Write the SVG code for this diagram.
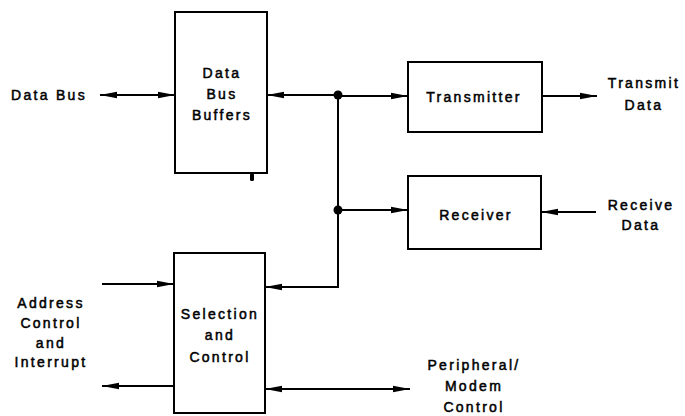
<svg xmlns="http://www.w3.org/2000/svg" width="685" height="416" viewBox="0 0 685 416">
<style>
.box{fill:#fff;stroke:#000;stroke-width:2}
.ln{fill:none;stroke:#000;stroke-width:2}
text{font-family:"Liberation Sans",Arial,sans-serif;font-size:14px;letter-spacing:2.3px;fill:#000;stroke:#000;stroke-width:0.5px;text-anchor:middle}
</style>
<defs>
<marker id="ah" viewBox="0 0 17 8" refX="17" refY="4" markerWidth="17" markerHeight="8" markerUnits="userSpaceOnUse" orient="auto-start-reverse">
<path d="M0,0.8 L17,4 L0,7.2 Z" fill="#000"/>
</marker>
</defs>
<rect width="685" height="416" fill="#fff"/>
<g id="connectors">
<line class="ln" x1="100" y1="95" x2="175" y2="95" marker-start="url(#ah)" marker-end="url(#ah)"/>
<line class="ln" x1="338" y1="95" x2="267" y2="95" marker-end="url(#ah)"/>
<line class="ln" x1="338" y1="96" x2="408" y2="96" marker-end="url(#ah)"/>
<line class="ln" x1="338" y1="95" x2="338" y2="287"/>
<line class="ln" x1="338" y1="210" x2="408" y2="210" marker-end="url(#ah)"/>
<line class="ln" x1="339" y1="287" x2="265" y2="287" marker-end="url(#ah)"/>
<line class="ln" x1="542" y1="96" x2="597" y2="96" marker-end="url(#ah)"/>
<line class="ln" x1="596" y1="212" x2="541" y2="212" marker-end="url(#ah)"/>
<line class="ln" x1="102" y1="284" x2="174" y2="284" marker-end="url(#ah)"/>
<line class="ln" x1="174" y1="386" x2="102" y2="386" marker-end="url(#ah)"/>
<line class="ln" x1="265" y1="389" x2="410" y2="389" marker-start="url(#ah)" marker-end="url(#ah)"/>
<circle cx="338" cy="95" r="4.5" fill="#000"/>
<circle cx="338" cy="210" r="4.5" fill="#000"/>
</g>
<g id="data-bus-label"><text x="49" y="100">Data Bus</text></g>
<g id="data-bus-buffers">
<rect class="box" x="175" y="12" width="92" height="161"/>
<rect x="250" y="173" width="4" height="8" rx="1.5" fill="#000"/>
<text x="222" y="78">Data</text>
<text x="222" y="99">Bus</text>
<text x="222" y="120">Buffers</text>
</g>
<g id="transmitter">
<rect class="box" x="408" y="62" width="134" height="70"/>
<text x="474" y="102">Transmitter</text>
</g>
<g id="receiver">
<rect class="box" x="408" y="176" width="133" height="73"/>
<text x="476" y="220">Receiver</text>
</g>
<g id="transmit-data-label">
<text x="644" y="88">Transmit</text>
<text x="644" y="110">Data</text>
</g>
<g id="receive-data-label">
<text x="641" y="210">Receive</text>
<text x="641" y="230">Data</text>
</g>
<g id="selection-control">
<rect class="box" x="174" y="253" width="91" height="160"/>
<text x="220" y="319">Selection</text>
<text x="220" y="340">and</text>
<text x="220" y="362">Control</text>
</g>
<g id="address-label">
<text x="51" y="308">Address</text>
<text x="51" y="328">Control</text>
<text x="51" y="348">and</text>
<text x="51" y="367">Interrupt</text>
</g>
<g id="peripheral-label">
<text x="474" y="370">Peripheral/</text>
<text x="474" y="391">Modem</text>
<text x="474" y="412">Control</text>
</g>
</svg>
